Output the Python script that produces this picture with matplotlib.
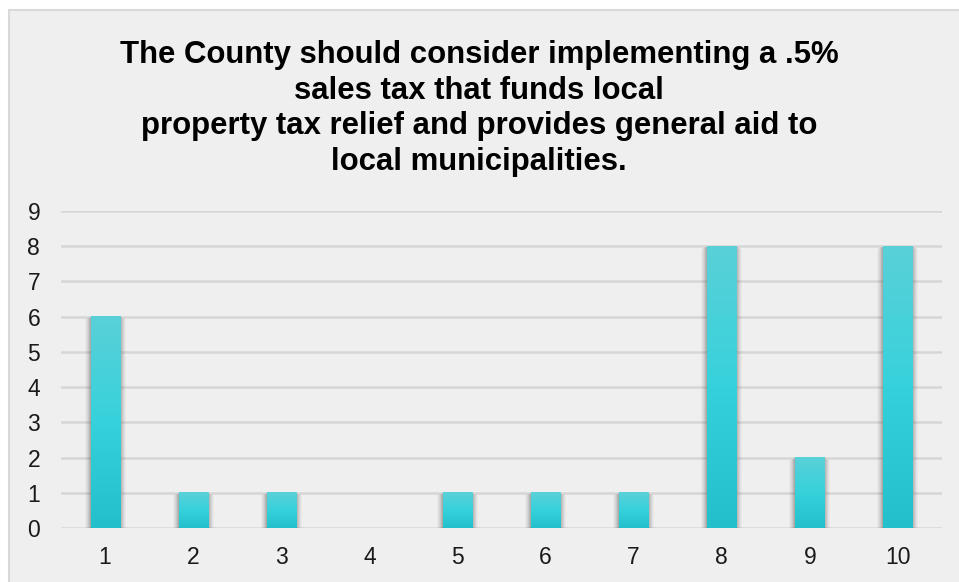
import numpy as np
import matplotlib
matplotlib.use("Agg")
import matplotlib.pyplot as plt
from matplotlib.patches import Rectangle
from matplotlib.colors import LinearSegmentedColormap

plt.rcParams['font.family'] = ['Liberation Sans', 'DejaVu Sans']

# Survey responses per rating
ratings = [1, 2, 3, 4, 5, 6, 7, 8, 9, 10]
counts = [6, 1, 1, 0, 1, 1, 1, 8, 2, 8]
y_ticks = [0, 1, 2, 3, 4, 5, 6, 7, 8, 9]
title = ("The County should consider implementing a .5%\n"
         "sales tax that funds local\n"
         "property tax relief and provides general aid to\n"
         "local municipalities.")

W, H = 959, 582
fig = plt.figure(figsize=(W / 100, H / 100), dpi=100, facecolor='white')

# Chart frame (extends past the right and bottom edges)
frame = Rectangle((9 / W, -0.05), 1.1, (H - 10) / H + 0.05, transform=fig.transFigure,
                  facecolor='#efefef', edgecolor='#d9d9d9', linewidth=1.5, zorder=-10)
fig.patches.append(frame)

ax = fig.add_axes([61 / W, 54 / H, (942 - 61) / W, (528 - 211) / H])
ax.set_facecolor('none')
ax.set_zorder(1)

for t in y_ticks:
    ax.axhline(t, color='#d6d6d6', linewidth=1.8, zorder=1)

cmap = LinearSegmentedColormap.from_list(
    'bar', ['#23bfca', '#36d2dc', '#5ad0d8'])
grad = np.linspace(0, 1, 256).reshape(-1, 1)

bw = 0.33
px_x = 1 / 88.1   # data units per pixel, horizontal
px_y = 9 / 317.0  # data units per pixel, vertical
for x, v in zip(ratings, counts):
    if v <= 0:
        continue
    # soft shadow
    for k, a in zip([6, 5, 4, 3, 2, 1], [0.04, 0.06, 0.08, 0.10, 0.13, 0.16]):
        ax.add_patch(Rectangle((x - bw / 2 - k * px_x, -k * px_y * 0.7),
                               bw + 2 * k * px_x, v + k * px_y * 0.3,
                               facecolor='#5a5a5a', edgecolor='none', alpha=a, zorder=2))
    ax.imshow(grad, cmap=cmap, origin='lower', aspect='auto',
              extent=[x - bw / 2, x + bw / 2, 0, v], zorder=3, interpolation='bilinear')

ax.set_xlim(0.5, 10.5)
ax.set_ylim(0, 9)
ax.set_xticks(ratings)
ax.set_xticklabels([str(r) for r in ratings])
ax.set_yticks(y_ticks)
ax.set_yticklabels([str(t) for t in y_ticks])
ax.tick_params(axis='both', length=0, labelsize=16.5, colors='#1a1a1a')
ax.tick_params(axis='x', pad=13)
ax.tick_params(axis='y', pad=15)
for s in ax.spines.values():
    s.set_visible(False)

fig.text(479 / W, 1 - 40 / H, title, ha='center', va='top', fontsize=22.4,
         fontweight='bold', color='black', linespacing=1.24, multialignment='center')

fig.savefig('out.png', dpi=100, facecolor='white')
